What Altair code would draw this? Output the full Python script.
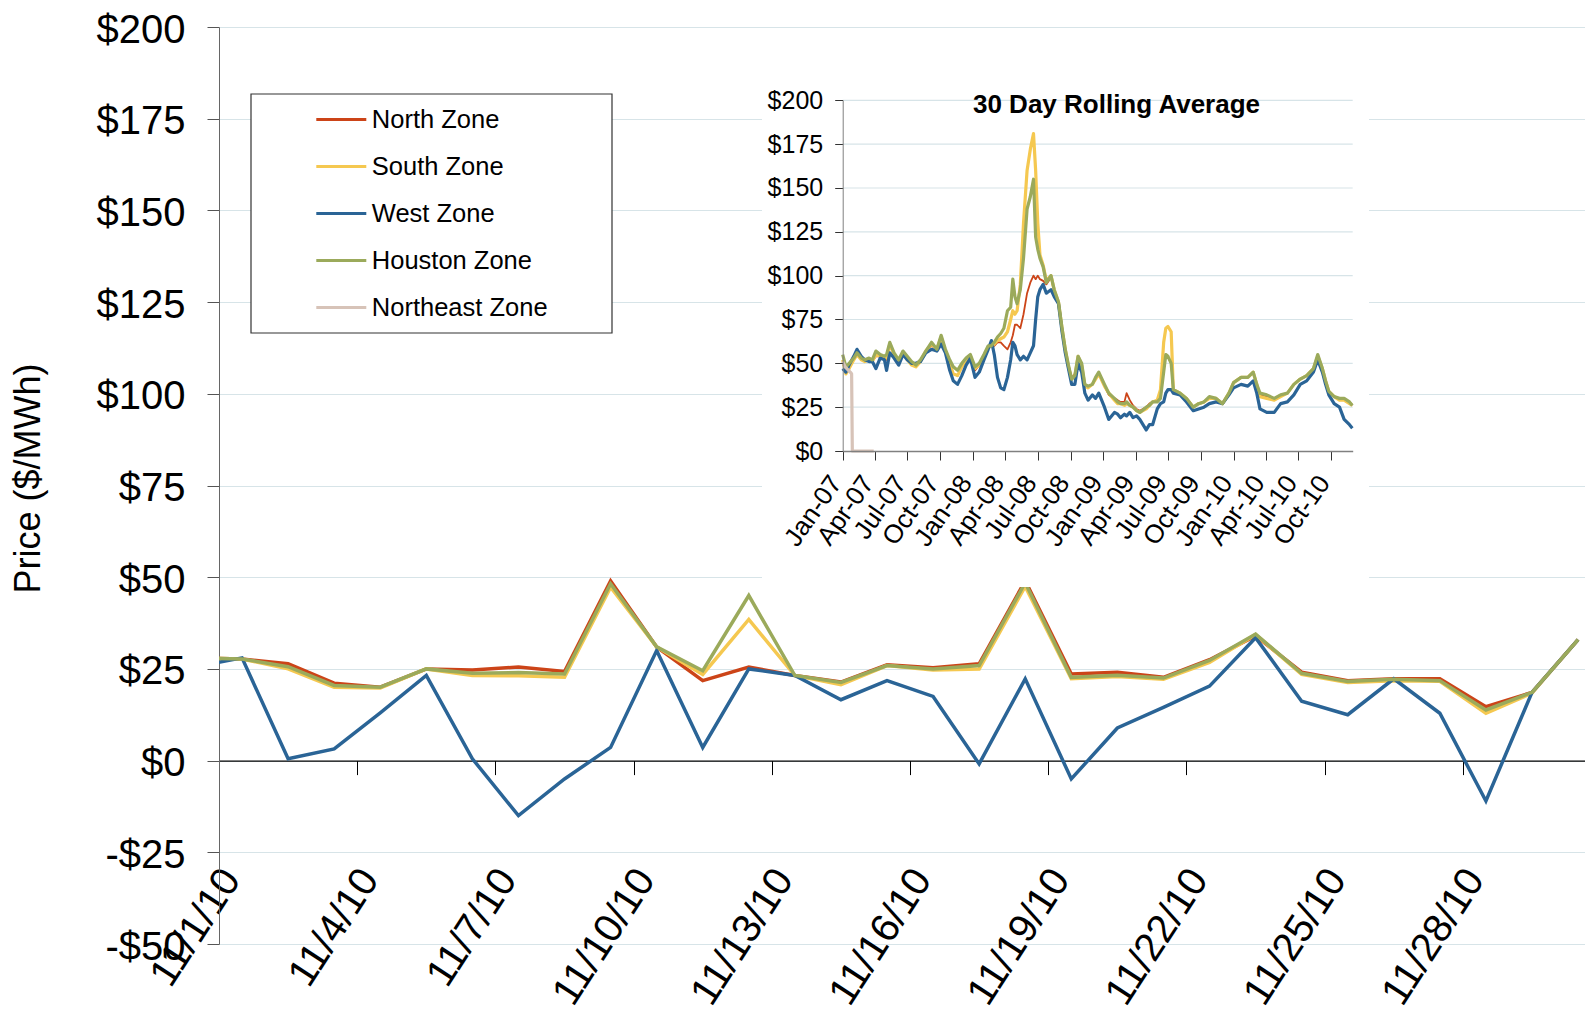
import altair as alt
import pandas as pd

zones = ["North Zone", "South Zone", "West Zone", "Houston Zone", "Northeast Zone"]
zone_colors = ["#CC4418", "#F5C850", "#2A6496", "#9BAA5B", "#D7C3B8"]

# ---------------- main chart: daily prices, November 2010 ----------------
# day 0 = 10/31/10 (only its segment into 11/1 is visible, clipped at the axis)
days = list(range(0, 31))
north = [28, 27.7, 26.4, 21.1, 20, 25, 24.7, 25.5, 24.3, 49, 31, 21.8, 25.5, 23.2, 21.4, 26.1,
         25.3, 26.4, 49, 23.6, 24.1, 22.7, 27.5, 34, 24.1, 21.8, 22.3, 22.3, 14.7, 18.6, 33]
south = [28, 27.7, 25, 20, 19.8, 25, 23.2, 23.1, 22.7, 47.3, 31, 23.5, 38.5, 23.2, 20.7, 25.9,
         24.7, 25, 47.5, 22.3, 22.9, 22.2, 26.8, 34.4, 23.5, 21.3, 21.8, 21.6, 12.9, 18.4, 33]
west = [25.6, 28, 0.5, 3.2, 13, 23.2, 0.5, -15, -5, 3.6, 30, 3.6, 25, 23.2, 16.6, 21.8,
        17.5, -0.9, 22.3, -5, 8.9, 14.5, 20.3, 33.5, 16.2, 12.5, 22.3, 12.9, -11, 18.6, 33]
houston = [28, 27.7, 25.6, 20.5, 20, 25, 23.8, 24, 23.6, 48.2, 31, 24.5, 45, 23.2, 21.3, 25.9,
           25, 25.9, 48.5, 22.7, 23.3, 22.5, 27.3, 34.5, 23.8, 21.6, 22.2, 21.8, 13.8, 18.6, 33]

main_y_ticks = [-50, -25, 0, 25, 50, 75, 100, 125, 150, 175, 200]
main_x_ticks = [0.5, 3.5, 6.5, 9.5, 12.5, 15.5, 18.5, 21.5, 24.5, 27.5]

# ---------------- inset: 30 day rolling average ----------------
inset_dates = [
    "2007-01-01", "2007-01-10", "2007-01-19", "2007-02-01", "2007-02-10", "2007-02-22", "2007-03-04", "2007-03-16", "2007-03-25",
    "2007-04-04", "2007-04-16", "2007-04-28", "2007-05-04", "2007-05-13", "2007-05-25", "2007-06-07", "2007-06-19",
    "2007-07-01", "2007-07-13", "2007-07-25", "2007-08-07", "2007-08-22", "2007-09-07", "2007-09-22",
    "2007-10-04", "2007-10-16", "2007-10-28", "2007-11-07", "2007-11-19", "2007-12-01", "2007-12-13", "2007-12-25",
    "2008-01-07", "2008-01-19", "2008-02-01", "2008-02-13", "2008-02-22", "2008-03-01", "2008-03-10", "2008-03-19", "2008-03-28",
    "2008-04-07", "2008-04-16", "2008-04-22", "2008-04-28", "2008-05-04", "2008-05-13", "2008-05-22", "2008-06-01", "2008-06-10", "2008-06-19", "2008-06-25",
    "2008-07-01", "2008-07-07", "2008-07-16", "2008-07-25", "2008-08-07", "2008-08-16", "2008-08-28", "2008-09-07", "2008-09-16", "2008-09-25",
    "2008-10-04", "2008-10-13", "2008-10-22", "2008-11-01", "2008-11-10", "2008-11-19", "2008-12-01", "2008-12-10", "2008-12-19",
    "2009-01-04", "2009-01-16", "2009-02-01", "2009-02-10", "2009-02-18", "2009-03-01", "2009-03-07", "2009-03-16", "2009-03-25", "2009-04-04", "2009-04-13",
    "2009-05-01", "2009-05-10", "2009-05-19", "2009-06-01", "2009-06-10", "2009-06-19", "2009-06-25", "2009-07-01", "2009-07-10", "2009-07-16",
    "2009-08-04", "2009-08-22", "2009-09-10", "2009-09-25", "2009-10-10", "2009-10-25", "2009-11-13", "2009-12-01", "2009-12-19",
    "2010-01-01", "2010-01-22", "2010-02-10", "2010-02-25", "2010-03-07", "2010-03-16", "2010-04-04", "2010-04-25",
    "2010-05-13", "2010-06-01", "2010-06-19", "2010-07-07", "2010-07-25", "2010-08-13", "2010-08-25", "2010-09-07", "2010-09-16",
    "2010-09-25", "2010-10-10", "2010-10-25", "2010-11-07", "2010-11-22", "2010-11-30",
]
inset_north = [
    50, 46, 49, 53, 56, 53, 52, 52, 51,
    54, 54, 53, 52, 60, 55, 50, 56,
    53, 50, 49, 51, 57, 60, 58,
    64, 57, 50, 44, 43, 48, 52, 54,
    46, 49, 54, 59, 60, 60, 62, 62, 60,
    58, 62, 66, 72, 72, 70, 78, 90, 96, 100, 98,
    100, 98, 97, 95, 99, 91, 85, 70, 58, 49,
    42, 44, 53, 49, 38, 37, 38, 41, 44,
    37, 32, 30, 29, 28, 28, 33, 29, 26, 24, 23,
    25, 27, 28, 29, 30, 46, 55, 54, 50, 35,
    33, 30, 25, 27, 28, 30, 30, 27, 33,
    39, 42, 42, 45, 38, 32, 31, 30,
    32, 33, 38, 41, 43, 47, 54, 47, 40, 34, 31, 30, 30, 28, 26,
]
inset_south = [
    52, 44, 47, 52, 55, 52, 51, 52, 51,
    55, 54, 53, 53, 61, 55, 50, 56,
    52, 49, 48, 51, 57, 61, 58,
    65, 57, 50, 44, 43, 48, 52, 54,
    47, 49, 54, 59, 60, 61, 63, 64, 65,
    68, 75, 80, 78, 80, 95, 130, 160, 172, 181, 160,
    130, 112, 106, 97, 100, 92, 85, 70, 58, 48,
    41, 43, 54, 49, 37, 36, 38, 41, 44,
    37, 33, 29, 27, 27, 26, 27, 26, 25, 23, 22,
    24, 26, 28, 29, 35, 62, 70, 71, 68, 35,
    33, 30, 25, 27, 28, 30, 30, 27, 33,
    39, 42, 42, 45, 38, 31, 30, 29,
    31, 33, 38, 41, 43, 47, 54, 47, 40, 34, 31, 29, 29, 27, 26,
]
inset_west = [
    47, 45, 49, 54, 58, 54, 52, 51, 51,
    47, 53, 52, 46, 56, 53, 49, 55,
    52, 50, 50, 51, 56, 58, 57,
    61, 56, 46, 40, 38, 43, 49, 53,
    42, 45, 52, 58, 63, 55, 42, 36, 35,
    42, 52, 62, 60, 55, 52, 54, 52, 56, 60, 75,
    88, 92, 95, 90, 92, 88, 84, 68, 56, 47,
    38, 38, 50, 45, 33, 29, 32, 30, 33,
    25, 18, 22, 21, 19, 21, 20, 22, 19, 20, 18,
    12, 15, 15, 24, 27, 28, 33, 35, 35, 33,
    32, 28, 23, 24, 25, 27, 28, 27, 32,
    36, 38, 37, 40, 33, 24, 22, 22,
    27, 28, 32, 38, 40, 45, 52, 45, 38, 32, 27, 25, 18, 15, 13,
]
inset_houston = [
    55, 48, 50, 53, 56, 53, 52, 53, 52,
    57, 55, 54, 55, 62, 56, 52, 57,
    54, 51, 49, 52, 57, 62, 58,
    66, 58, 52, 48, 46, 50, 53, 55,
    48, 50, 55, 60, 60, 62, 65, 67, 70,
    80, 82, 98, 88, 84, 92, 110, 138, 145, 155, 122,
    115, 110, 105, 96, 100, 92, 85, 70, 58, 49,
    41, 43, 54, 50, 38, 37, 38, 42, 45,
    38, 33, 30, 28, 27, 27, 28, 26, 25, 23, 22,
    25, 26, 28, 28, 30, 45, 55, 54, 50, 35,
    33, 30, 25, 27, 28, 31, 30, 27, 33,
    39, 42, 42, 45, 38, 33, 32, 30,
    32, 33, 38, 41, 43, 47, 55, 47, 40, 34, 31, 30, 30, 28, 26,
]
northeast_dates = ["2007-01-01", "2007-01-08", "2007-01-22", "2007-01-26", "2007-01-28", "2007-03-29"]
northeast_values = [51, 48, 45, 44, 0, 0]

inset_y_ticks = [0, 25, 50, 75, 100, 125, 150, 175, 200]
inset_grid_values = [25, 50, 75, 100, 125, 150, 175, 200]
inset_start = (2007, 1, 1)
inset_end = (2010, 12, 1)
inset_quarters = [(y, m) for y in (2007, 2008, 2009, 2010) for m in (1, 4, 7, 10)]

for s in (inset_north, inset_south, inset_west, inset_houston):
    assert len(s) == len(inset_dates)

# ---------------- layout (pixels, relative to main plot origin) ----------------
W, H = 1366, 917
INSET_X0, INSET_X1 = 623.7, 1133.7
INSET_Y0, INSET_Y1 = 424.0, 73.3
GRID = "#D7E4E8"
FONT = "Liberation Sans"

color_scale = alt.Scale(domain=zones, range=zone_colors)

# ---------------- main layers ----------------
main_df = pd.DataFrame({
    "day": days * 4,
    "price": north + south + west + houston,
    "zone": [z for z in zones[:4] for _ in days],
})

main_lines = alt.Chart(main_df).mark_line(strokeWidth=3.5, clip=True).encode(
    x=alt.X("day:Q",
            scale=alt.Scale(domain=[0.5, 0.5 + W / 46.07], nice=False, zero=False),
            axis=alt.Axis(values=main_x_ticks,
                          labelExpr="'11/' + (datum.value + 0.5) + '/10'",
                          offset=-183.4, domainColor="#000000", domainWidth=1.2,
                          tickColor="#000000", tickSize=14, grid=False, title=None,
                          labelAngle=-57, labelAlign="right", labelBaseline="middle",
                          labelPadding=98, labelOffset=12, labelFontSize=40,
                          labelColor="#000000", labelOverlap=False, labelFlush=False)),
    y=alt.Y("price:Q",
            scale=alt.Scale(domain=[-50, 200], nice=False, zero=False),
            axis=alt.Axis(values=main_y_ticks,
                          labelExpr="datum.value < 0 ? '-$' + abs(datum.value) : '$' + datum.value",
                          labelFontSize=40, labelPadding=22, labelOffset=3, tickSize=12,
                          tickColor="#555555", domainColor="#666666", labelColor="#000000",
                          gridColor=GRID, gridWidth=1.2, labelOverlap=False, labelFlush=False,
                          title="Price ($/MWh)", titleFontSize=36, titleFontWeight="normal",
                          titleColor="#000000", titleX=-191, titleY=451, titleBaseline="middle")),
    color=alt.Color("zone:N", scale=color_scale,
                    legend=alt.Legend(orient="none", legendX=95.8, legendY=66, title=None,
                                      symbolType="stroke", symbolSize=2500, symbolStrokeWidth=3,
                                      labelFontSize=25.5, labelOffset=4, rowPadding=7, padding=0,
                                      labelColor="#000000", labelLimit=400, labelFont=FONT,
                                      symbolOpacity=1)),
)

legend_box = alt.Chart(pd.DataFrame({"k": [0]})).mark_rect(
    fill="white", stroke="#333333", strokeWidth=1.2
).encode(x=alt.value(32), x2=alt.value(393), y=alt.value(67), y2=alt.value(306))

main_layer = alt.layer(legend_box, main_lines)

# ---------------- inset layers ----------------
def inset_frame(zone_list, series_list):
    rows = []
    for zone, (dates, series) in zip(zone_list, series_list):
        for d, v in zip(dates, series):
            rows.append({"date": d + "T00:00:00", "value": v, "zone": zone})
    return pd.DataFrame(rows)

north_df = inset_frame([zones[0]], [(inset_dates, inset_north)])
others_df = inset_frame(zones[1:], [(inset_dates, inset_south), (inset_dates, inset_west),
                                    (inset_dates, inset_houston), (northeast_dates, northeast_values)])

dt_start = alt.DateTime(year=inset_start[0], month=inset_start[1], date=inset_start[2])
dt_end = alt.DateTime(year=inset_end[0], month=inset_end[1], date=inset_end[2])
inset_x_scale = alt.Scale(domain=[dt_start, dt_end], range=[INSET_X0, INSET_X1])
inset_y_scale = alt.Scale(domain=[0, 200], range=[INSET_Y0, INSET_Y1], nice=False, zero=False)

inset_x_axis = alt.Axis(orient="bottom", offset=-(H - INSET_Y0),
                        values=[alt.DateTime(year=y, month=m, date=1) for y, m in inset_quarters],
                        format="%b-%y", labelAngle=-55, labelAlign="right", labelBaseline="middle",
                        labelFontSize=26, labelPadding=18, labelOffset=-7, tickSize=9,
                        tickColor="#333333", domainColor="#808080", domainWidth=1.5,
                        labelColor="#000000", grid=False, title=None, zindex=1,
                        labelOverlap=False, labelFlush=False)
inset_y_axis = alt.Axis(orient="left", offset=-INSET_X0, values=inset_y_ticks,
                        labelExpr="'$' + datum.value", labelFontSize=25, labelPadding=12,
                        tickSize=8, tickColor="#333333", domainColor="#808080",
                        labelColor="#000000", grid=False, title=None, zindex=1,
                        labelOverlap=False, labelFlush=False)

inset_box = alt.Chart(pd.DataFrame({"k": [0]})).mark_rect(fill="white").encode(
    x=alt.value(543), x2=alt.value(1150), y=alt.value(23), y2=alt.value(560))

grid_df = pd.DataFrame({
    "date": ["%04d-%02d-%02dT00:00:00" % inset_start] * len(inset_grid_values),
    "date_end": ["%04d-%02d-%02dT00:00:00" % inset_end] * len(inset_grid_values),
    "value": inset_grid_values,
})
inset_grid = alt.Chart(grid_df).mark_rule(color=GRID, strokeWidth=1.2).encode(
    x=alt.X("date:T", scale=inset_x_scale, axis=inset_x_axis),
    x2="date_end:T",
    y=alt.Y("value:Q", scale=inset_y_scale, axis=inset_y_axis),
)

inset_north_line = alt.Chart(north_df).mark_line(strokeWidth=1.8, strokeJoin="round").encode(
    x=alt.X("date:T", scale=inset_x_scale, axis=inset_x_axis),
    y=alt.Y("value:Q", scale=inset_y_scale, axis=inset_y_axis),
    color=alt.Color("zone:N", scale=color_scale, legend=None),
)
inset_other_lines = alt.Chart(others_df).mark_line(strokeWidth=3.2, strokeJoin="round").encode(
    x=alt.X("date:T", scale=inset_x_scale, axis=inset_x_axis),
    y=alt.Y("value:Q", scale=inset_y_scale, axis=inset_y_axis),
    color=alt.Color("zone:N", scale=color_scale, legend=None),
)

inset_title = alt.Chart(pd.DataFrame({"t": ["30 Day Rolling Average"]})).mark_text(
    fontSize=26, fontWeight="bold", align="center", baseline="alphabetic", color="#000000"
).encode(x=alt.value(897.5), y=alt.value(86.3), text="t:N")

inset_layer = alt.layer(inset_box, inset_grid, inset_north_line, inset_other_lines, inset_title)

chart = alt.layer(main_layer, inset_layer).resolve_scale(
    x="independent", y="independent"
).properties(
    width=W, height=H,
    padding={"left": 211, "top": 19, "right": 0, "bottom": 70},
    autosize=alt.AutoSizeParams(type="none"),
).configure(font=FONT).configure_view(stroke=None).configure_legend(symbolStrokeWidth=3)

chart.save("out.html", embed_options={"renderer": "svg", "actions": False})
